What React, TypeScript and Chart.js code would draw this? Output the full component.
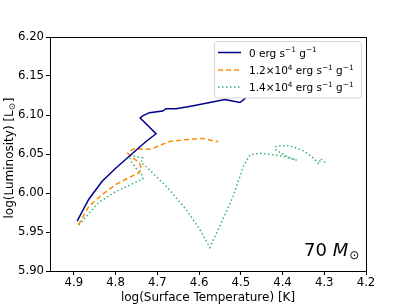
import React, { useEffect, useRef } from "react";
import { Chart, registerables } from "chart.js";
Chart.register(...registerables);

const xTicks = [4.2, 4.3, 4.4, 4.5, 4.6, 4.7, 4.8, 4.9];
const yTicks = [5.9, 5.95, 6.0, 6.05, 6.1, 6.15, 6.2];

const seriesLabels = [
  "0 erg s^{\u22121} g^{\u22121}",
  "1.2\u00D710^{4} erg s^{\u22121} g^{\u22121}",
  "1.4\u00D710^{4} erg s^{\u22121} g^{\u22121}",
];

const navyT = [4.892, 4.864, 4.832, 4.799, 4.759, 4.727, 4.703, 4.741, 4.735, 4.719, 4.687, 4.679, 4.655, 4.623, 4.574, 4.538, 4.502, 4.488];
const navyL = [5.964, 5.992, 6.015, 6.032, 6.051, 6.066, 6.076, 6.096, 6.099, 6.103, 6.105, 6.108, 6.108, 6.111, 6.116, 6.12, 6.116, 6.122];

const orangeT = [4.889, 4.864, 4.832, 4.799, 4.767, 4.743, 4.738, 4.743, 4.759, 4.771, 4.759, 4.747, 4.731, 4.715, 4.699, 4.671, 4.639, 4.591, 4.567, 4.554];
const orangeL = [5.959, 5.983, 5.998, 6.011, 6.02, 6.026, 6.032, 6.039, 6.045, 6.051, 6.056, 6.057, 6.056, 6.056, 6.06, 6.066, 6.068, 6.07, 6.067, 6.066];

const greenT = [4.888, 4.84, 4.799, 4.735, 4.735, 4.75, 4.763, 4.767, 4.751, 4.735, 4.739, 4.727, 4.679, 4.631, 4.599, 4.574, 4.55, 4.518, 4.494, 4.478, 4.454, 4.422, 4.398, 4.366, 4.394, 4.418, 4.415, 4.39, 4.374, 4.35, 4.326, 4.313, 4.309, 4.293];
const greenL = [5.959, 5.988, 6.002, 6.018, 6.022, 6.031, 6.041, 6.048, 6.047, 6.045, 6.039, 6.034, 6.009, 5.979, 5.954, 5.93, 5.958, 5.996, 6.034, 6.049, 6.051, 6.049, 6.047, 6.042, 6.048, 6.056, 6.06, 6.061, 6.059, 6.054, 6.045, 6.037, 6.044, 6.037];

const colors = ["#00008b", "#ff8c00", "#3cb371"];
const dashes: number[][] = [[], [5, 3], [1.5, 2.5]];

const FONT = "DejaVu Sans";
const TICK_SIZE = 11.7;
const TITLE_SIZE = 12;

function pts(t: number[], l: number[]) {
  return t.map((v, i) => ({ x: v, y: l[i] }));
}

function drawRich(ctx: CanvasRenderingContext2D, text: string, x: number, baseline: number, size: number) {
  const parts = text.split(/\^\{([^}]*)\}/);
  let cx = x;
  parts.forEach((p, i) => {
    if (!p) return;
    const sup = i % 2 === 1;
    const fs = sup ? size * 0.7 : size;
    ctx.font = `${fs}px "${FONT}"`;
    ctx.fillText(p, cx, sup ? baseline - size * 0.42 : baseline);
    cx += ctx.measureText(p).width;
  });
}

const decor = {
  id: "decor",
  afterDatasetsDraw(chart: any) {
    const { ctx, chartArea: a } = chart;
    ctx.save();
    // frame
    ctx.strokeStyle = "#000";
    ctx.lineWidth = 1;
    ctx.strokeRect(Math.round(a.left) + 0.5, Math.round(a.top) + 0.5, Math.round(a.right - a.left), Math.round(a.bottom - a.top));

    // legend
    const bx = 214.5, by = 41.5, bw = 147, bh = 56.5, r = 3;
    ctx.beginPath();
    ctx.moveTo(bx + r, by);
    ctx.lineTo(bx + bw - r, by);
    ctx.quadraticCurveTo(bx + bw, by, bx + bw, by + r);
    ctx.lineTo(bx + bw, by + bh - r);
    ctx.quadraticCurveTo(bx + bw, by + bh, bx + bw - r, by + bh);
    ctx.lineTo(bx + r, by + bh);
    ctx.quadraticCurveTo(bx, by + bh, bx, by + bh - r);
    ctx.lineTo(bx, by + r);
    ctx.quadraticCurveTo(bx, by, bx + r, by);
    ctx.closePath();
    ctx.fillStyle = "rgba(255,255,255,0.8)";
    ctx.fill();
    ctx.strokeStyle = "#d6d6d6";
    ctx.lineWidth = 1;
    ctx.stroke();

    const rows = [52.5, 70, 87];
    ctx.textBaseline = "alphabetic";
    ctx.textAlign = "left";
    rows.forEach((ry, i) => {
      ctx.beginPath();
      ctx.setLineDash(dashes[i]);
      ctx.strokeStyle = colors[i];
      ctx.lineWidth = 1.5;
      ctx.moveTo(218, ry);
      ctx.lineTo(241, ry);
      ctx.stroke();
      ctx.setLineDash([]);
      ctx.fillStyle = "#000";
      drawRich(ctx, seriesLabels[i], 249, ry + 4, 10.5);
    });

    // 70 M_sun
    ctx.fillStyle = "#000";
    ctx.textBaseline = "alphabetic";
    ctx.font = `18px "${FONT}"`;
    ctx.fillText("70", 304, 256);
    const w70 = ctx.measureText("70 ").width;
    ctx.font = `italic 18px "${FONT}"`;
    ctx.fillText("M", 304 + w70, 256);
    const wM = ctx.measureText("M").width;
    ctx.font = `12px "${FONT}"`;
    ctx.fillText("\u2299", 304 + w70 + wM + 1, 259);

    // y title
    ctx.translate(10, 158);
    ctx.rotate(-Math.PI / 2);
    const ys = TITLE_SIZE;
    const subS = ys * 0.7;
    ctx.font = `${ys}px "${FONT}"`;
    const p1 = "log(Luminosity) [L";
    const sub = "\u2299";
    const p3 = "]";
    const w1 = ctx.measureText(p1).width;
    ctx.font = `${subS}px "${FONT}"`;
    const w2 = ctx.measureText(sub).width;
    ctx.font = `${ys}px "${FONT}"`;
    const w3 = ctx.measureText(p3).width;
    const total = w1 + w2 + w3 + 1;
    const x0 = -total / 2;
    ctx.textBaseline = "middle";
    ctx.fillText(p1, x0, 0);
    ctx.font = `${subS}px "${FONT}"`;
    ctx.fillText(sub, x0 + w1, 3);
    ctx.font = `${ys}px "${FONT}"`;
    ctx.fillText(p3, x0 + w1 + w2 + 1, 0);
    ctx.restore();
  },
};

export default function App() {
  const ref = useRef<HTMLCanvasElement>(null);
  useEffect(() => {
    const series = [pts(navyT, navyL), pts(orangeT, orangeL), pts(greenT, greenL)];
    const chart = new Chart(ref.current!, {
      type: "line",
      data: {
        datasets: series.map((d, i) => ({
          label: seriesLabels[i],
          data: d,
          borderColor: colors[i],
          borderWidth: 1.5,
          borderDash: dashes[i],
          pointRadius: 0,
          fill: false,
          tension: 0,
        })),
      },
      options: {
        animation: false,
        responsive: false,
        events: [],
        layout: { padding: { left: 0, top: 37, right: 41, bottom: 0 } },
        plugins: { legend: { display: false }, tooltip: { enabled: false } },
        scales: {
          x: {
            type: "linear",
            reverse: true,
            min: 4.2,
            max: 4.957,
            afterBuildTicks: (s: any) => {
              s.ticks = xTicks.map((v) => ({ value: v }));
            },
            afterFit: (s: any) => {
              s.height = 34;
            },
            grid: { drawOnChartArea: false, drawTicks: true, tickLength: 4, color: "#000", tickColor: "#000" },
            border: { display: false },
            ticks: { color: "#000", font: { family: FONT, size: TICK_SIZE }, padding: 1, maxRotation: 0, callback: (v: any) => Number(v).toFixed(1) },
            title: { display: true, text: "log(Surface Temperature) [K]", color: "#000", font: { family: FONT, size: TITLE_SIZE }, padding: { top: 0, bottom: 0 } },
          },
          y: {
            type: "linear",
            min: 5.9,
            max: 6.2,
            afterBuildTicks: (s: any) => {
              s.ticks = yTicks.map((v) => ({ value: v }));
            },
            afterFit: (s: any) => {
              s.width = 50;
            },
            grid: { drawOnChartArea: false, drawTicks: true, tickLength: 4, color: "#000", tickColor: "#000" },
            border: { display: false },
            ticks: { color: "#000", font: { family: FONT, size: TICK_SIZE }, padding: 2, callback: (v: any) => Number(v).toFixed(2) },
          },
        },
      },
      plugins: [decor],
    } as any);
    return () => chart.destroy();
  }, []);
  return (
    <div style={{ position: "fixed", left: 0, top: 0, width: 407, height: 305, background: "#fff" }}>
      <canvas ref={ref} width={407} height={305} />
    </div>
  );
}
